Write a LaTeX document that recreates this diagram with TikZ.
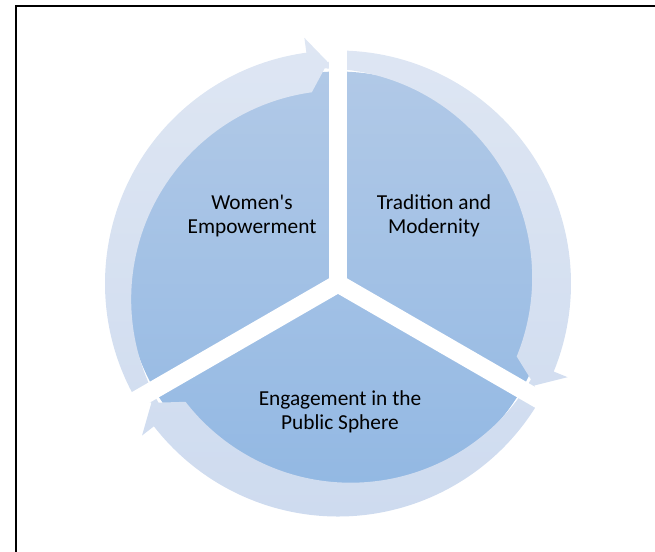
\documentclass[tikz,border=0pt]{standalone}
\usepackage{fontspec}
\setmainfont{Carlito}
\definecolor{disctop}{RGB}{177,201,231}
\definecolor{discbot}{RGB}{146,184,227}
\definecolor{ringtop}{RGB}{222,230,243}
\definecolor{ringbot}{RGB}{206,219,239}
\begin{document}
\begin{tikzpicture}[x=0.75pt,y=0.75pt,
	segtext/.style={align=center,font=\fontsize{16}{18}\selectfont}]
		\useasboundingbox (-338,-267.5) rectangle (317,283.5);
		\draw[line width=1.3pt] (-322,-272) -- (-322,277.8) -- (322,277.8);
		% pie
		\shade[top color=disctop,bottom color=discbot] (0,0) circle (212);
		% arrows round the pie
		\shade[top color=ringtop,bottom color=ringbot]
			(210:233) arc[start angle=210,end angle=97.8,radius=233] -- (97.8:248) -- (92.6:221.5) -- (97.8:193) arc[start angle=97.8,end angle=210,radius=209] -- cycle
			(90:233) arc[start angle=90,end angle=-22.2,radius=233] -- (-22.2:248) -- (-27.4:221.5) -- (-22.2:193) arc[start angle=-22.2,end angle=90,radius=209] -- cycle
			(-30:233) arc[start angle=-30,end angle=-142.2,radius=233] -- (-142.2:248) -- (-147.4:221.5) -- (-142.2:193) arc[start angle=-142.2,end angle=-30,radius=209] -- cycle;
		% gaps
		\fill[white] (0,0) circle (9);
		\draw[white,line width=13.5pt] (0,0) -- (90:262);
		\draw[white,line width=13.5pt] (0,0) -- (210:262);
		\draw[white,line width=13.5pt] (0,0) -- (-30:262);
		\node[segtext] (women) at (-86,67.5) {Women\textquotesingle s\\Empowerment};
		\node[segtext] (tradition) at (96,67.5) {Tradition and\\Modernity};
		\node[segtext] (engagement) at (2,-128.5) {Engagement in the\\Public Sphere};
	\end{tikzpicture}
\end{document}
